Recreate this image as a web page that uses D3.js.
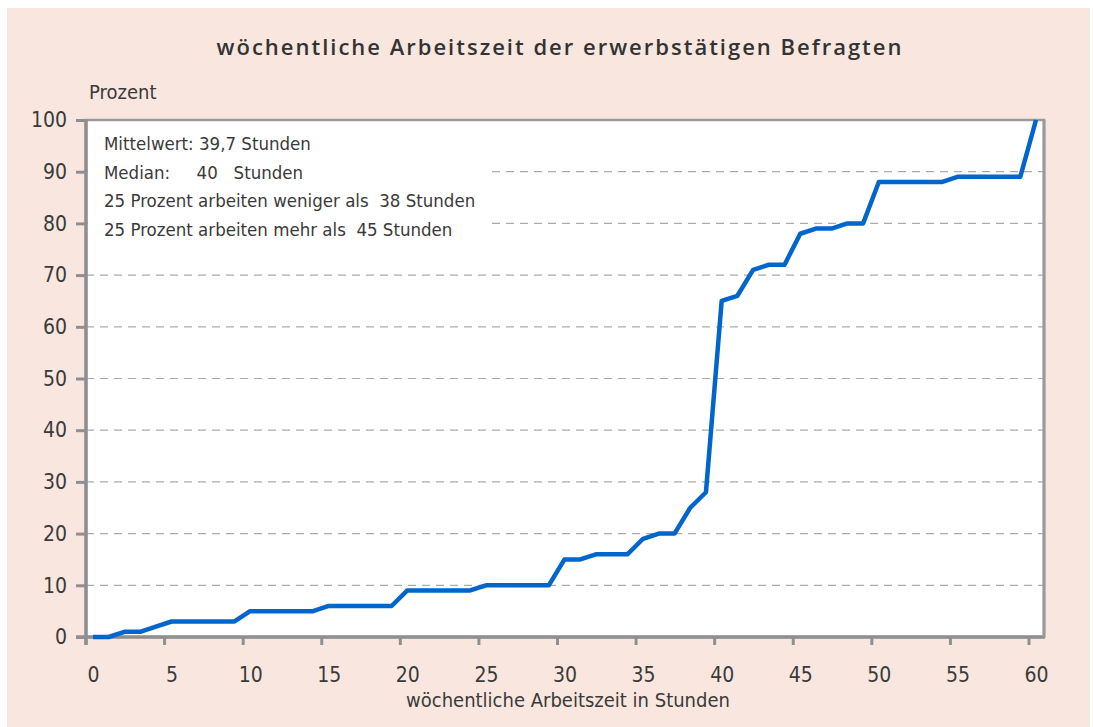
<!DOCTYPE html>
<meta charset="utf-8">
<style>
body { margin: 0; background: #fff; }
svg text { font-family: "Liberation Sans Narrow", "DejaVu Sans Condensed", sans-serif; fill: #3a3a3a; }
.axis path, .axis line { stroke: #8f8f8f; }
.grid line { stroke: #ababab; stroke-width: 1.2px; stroke-dasharray: 8,6; }
.line { fill: none; stroke: #0066cc; stroke-width: 4.5px; stroke-linejoin: round; }
</style>
<body>
<svg width="1093" height="727"></svg>
<script src="https://cdn.jsdelivr.net/npm/d3@7"></script>
<script>

// weekly working hours (x) vs cumulative share of respondents in percent (y)
var hours = [0,1,2,3,4,5,6,7,8,9,10,11,12,13,14,15,16,17,18,19,20,21,22,23,24,25,26,27,28,29,
             30,31,32,33,34,35,36,37,38,39,40,41,42,43,44,45,46,47,48,49,50,51,52,53,54,55,56,57,58,59,60];
var percent = [0,0,1,1,2,3,3,3,3,3,5,5,5,5,5,6,6,6,6,6,9,9,9,9,9,10,10,10,10,10,
               15,15,16,16,16,19,20,20,25,28,65,66,71,72,72,78,79,79,80,80,88,88,88,88,88,89,89,89,89,89,100];
var xTicks = [0,5,10,15,20,25,30,35,40,45,50,55,60];
var yTicks = [0,10,20,30,40,50,60,70,80,90,100];
var gridValues = [10,20,30,40,50,60,70,80,90];
var notes = ["Mittelwert: 39,7 Stunden",
             "Median:     40   Stunden",
             "25 Prozent arbeiten weniger als  38 Stunden",
             "25 Prozent arbeiten mehr als  45 Stunden"];

var svg = d3.select("svg");

var plot = {left: 86, right: 1044, top: 120, bottom: 637};

var x = d3.scaleLinear().domain([0, 60]).range([93, 1036]),
    y = d3.scaleLinear().domain([0, 100]).range([plot.bottom, plot.top]);

// peach panel
svg.append("rect")
    .attr("x", 7).attr("y", 8)
    .attr("width", 1083).attr("height", 719)
    .attr("fill", "#f9e7df");

svg.append("text")
    .attr("x", 560).attr("y", 55)
    .attr("text-anchor", "middle")
    .style("font-family", "'Open Sans', sans-serif")
    .style("font-weight", 600)
    .style("font-size", "22px")
    .style("letter-spacing", "2px")
    .style("fill", "#333")
    .text("wöchentliche Arbeitszeit der erwerbstätigen Befragten");

svg.append("text")
    .attr("x", 89).attr("y", 99)
    .style("font-size", "20px")
    .text("Prozent");

// plot area
svg.append("rect")
    .attr("x", plot.left).attr("y", plot.top)
    .attr("width", plot.right - plot.left).attr("height", plot.bottom - plot.top)
    .attr("fill", "#fff")
    .attr("stroke", "#9a9a9a")
    .attr("stroke-width", 2.5);

svg.append("g")
    .attr("class", "grid")
  .selectAll("line")
  .data(gridValues)
  .enter().append("line")
    .attr("x1", plot.left).attr("x2", plot.right)
    .attr("y1", function(d) { return y(d); })
    .attr("y2", function(d) { return y(d); });

// note box hides the grid behind the text
svg.append("rect")
    .attr("x", plot.left + 2).attr("y", plot.top + 3)
    .attr("width", 403).attr("height", 122)
    .attr("fill", "#fff");

svg.append("g")
  .selectAll("text")
  .data(notes)
  .enter().append("text")
    .attr("x", 104)
    .attr("y", function(d, i) { return 150 + i * 28.5; })
    .style("font-size", "18.5px")
    .style("white-space", "pre")
    .text(function(d) { return d; });

var xAxis = svg.append("g")
    .attr("class", "axis")
    .attr("transform", "translate(0," + plot.bottom + ")")
    .call(d3.axisBottom(x).tickValues(xTicks).tickSize(8).tickPadding(22).tickSizeOuter(0));
xAxis.select(".domain").remove();
xAxis.selectAll("line").attr("x1", -7.5).attr("x2", -7.5).attr("stroke-width", 3);
xAxis.selectAll("text").style("font-size", "21px");

var yAxis = svg.append("g")
    .attr("class", "axis")
    .attr("transform", "translate(" + plot.left + ",0)")
    .call(d3.axisLeft(y).tickValues(yTicks).tickSize(10).tickPadding(9).tickSizeOuter(0));
yAxis.select(".domain").remove();
yAxis.selectAll("line").attr("stroke-width", 3);
yAxis.selectAll("text").style("font-size", "21px");

// heavy axis lines
svg.append("line")
    .attr("x1", plot.left).attr("x2", plot.left)
    .attr("y1", plot.top).attr("y2", plot.bottom + 8)
    .attr("stroke", "#8f8f8f").attr("stroke-width", 3.5);
svg.append("line")
    .attr("x1", plot.left - 10).attr("x2", plot.right + 1)
    .attr("y1", plot.bottom).attr("y2", plot.bottom)
    .attr("stroke", "#8f8f8f").attr("stroke-width", 3.5);
svg.append("line")
    .attr("x1", plot.right).attr("x2", plot.right)
    .attr("y1", plot.top).attr("y2", plot.bottom)
    .attr("stroke", "#9a9a9a").attr("stroke-width", 3);

var line = d3.line()
    .x(function(d) { return x(d[0]); })
    .y(function(d) { return y(d[1]); });

svg.append("path")
    .attr("class", "line")
    .attr("d", line(d3.zip(hours, percent)));

svg.append("text")
    .attr("x", 568).attr("y", 707)
    .attr("text-anchor", "middle")
    .style("font-size", "20px")
    .text("wöchentliche Arbeitszeit in Stunden");

</script>
</body>
